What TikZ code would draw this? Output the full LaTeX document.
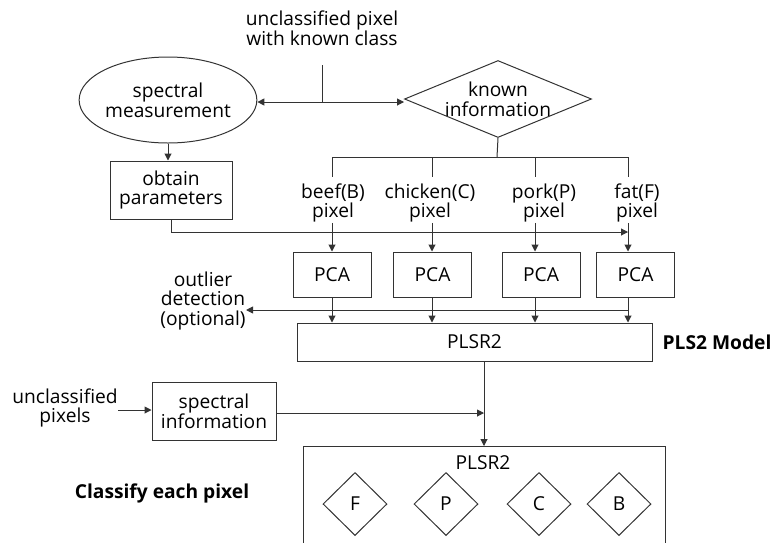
\documentclass[tikz,border=0pt]{standalone}
\usepackage{fontspec}
\setmainfont{Open Sans}
\usetikzlibrary{shapes.geometric,arrows.meta}

\begin{document}
\begin{tikzpicture}[
    x=0.5pt, y=-0.5pt,
    font=\fontsize{9.6}{9.8}\selectfont,
    every node/.style={align=center, inner sep=0pt},
    line/.style={draw=black!80, line width=0.5pt},
    arr/.style={line, -{Triangle[length=3.5pt,width=3.5pt]}},
    dblarr/.style={line, {Triangle[length=3.5pt,width=3.5pt]}-{Triangle[length=3.5pt,width=3.5pt]}},
    box/.style={line, rectangle},
    pcabox/.style={box, minimum width=39pt, minimum height=22.5pt},
    classdia/.style={line, diamond, minimum width=32pt, minimum height=31.5pt},
    boldtext/.style={font=\fontsize{9.6}{9.8}\selectfont\bfseries}
    ]
    \useasboundingbox (0,0) rectangle (770,542);

    % input and first split
    \node (known-class) at (322,28) {unclassified pixel\\with known class};
    \coordinate (jtop) at (322,65);
    \coordinate (jbot) at (322,102);
    \node [line, ellipse, minimum width=77.5pt, minimum height=43pt] (meas) at (168,100) {spectral\\measurement};
    \node [line, diamond, minimum width=93.5pt, minimum height=38.5pt] (known) at (498,99) {};
    \node (known-text) at (known.center) {known\\information};
    \draw [line] (jtop) -- (jbot);
    \draw [dblarr] (meas.east |- jbot) -- (known.west |- jbot);

    \node [box, minimum width=61pt, minimum height=29pt] (obtain) at (171,190) {obtain\\parameters};
    \draw [arr] (meas.south) -- (obtain.north -| meas.south);

    % branches to the classes
    \coordinate (split) at (497,157);
    \coordinate (bB) at (332,157);
    \coordinate (bC) at (432,157);
    \coordinate (bP) at (535,157);
    \coordinate (bF) at (628,157);
    \draw [line] (known.south) -- (split);
    \draw [line] (bB) -- (bF);
    \foreach \c in {bB,bC,bP,bF}
        \draw [line] (\c) -- ++(0,20);

    \node (lbeef) at (333,203) {beef(B)\\pixel};
    \node (lchick) at (430,203) {chicken(C)\\pixel};
    \node (lpork) at (544,203) {pork(P)\\pixel};
    \node (lfat) at (637,203) {fat(F)\\pixel};

    \node [pcabox] (pbeef) at (332,274.5) {PCA};
    \node [pcabox] (pchick) at (432.5,274.5) {PCA};
    \node [pcabox] (ppork) at (541,274.5) {PCA};
    \node [pcabox] (pfat) at (635.5,274.5) {PCA};

    \draw [arr] (lbeef.south -| bB) -- (pbeef.north -| bB);
    \draw [arr] (lchick.south -| bC) -- (pchick.north -| bC);
    \draw [arr] (lpork.south -| bP) -- (ppork.north -| bP);
    \draw [arr] (lfat.south -| bF) -- (pfat.north -| bF);

    % parameters to all classes
    \coordinate (parend) at (628,232);
    \draw [arr] (obtain.south) |- (parend);

    % PLS2 model
    \node [box, minimum width=177.5pt, minimum height=19pt] (plsr) at (474.5,342) {PLSR2};
    \node [boldtext] (model) at (717,342) {PLS2 Model};
    \draw [arr] (pbeef.south -| bB) -- (plsr.north -| bB);
    \draw [arr] (pchick.south -| bC) -- (plsr.north -| bC);
    \draw [arr] (ppork.south -| bP) -- (plsr.north -| bP);
    \draw [arr] (pfat.south -| bF) -- (plsr.north -| bF);

    \node (outlier) at (203,301) {outlier\\detection\\(optional)};
    \coordinate (oend) at (628,310);
    \draw [arr] (oend) -- (outlier.east |- oend);

    % classification
    \node (uncl) at (65,408) {unclassified\\pixels};
    \node [box, minimum width=62pt, minimum height=29pt] (specinfo) at (214,411) {spectral\\information};
    \draw [arr] (uncl.east) ++(0,2) -- (specinfo.west |- 0,410);
    \coordinate (merge) at (484,413);
    \coordinate (clstop) at (484,446);
    \draw [arr] (specinfo.east |- merge) -- (merge);
    \draw [arr] (plsr.south -| merge) -- (clstop);

    \draw [line] (303,545) -- (303,446) -- (665,446) -- (665,545);
    \node (clsname) at (483,463) {PLSR2};
    \node [classdia] (dF) at (355,504) {F};
    \node [classdia] (dP) at (446,504) {P};
    \node [classdia] (dC) at (539,504) {C};
    \node [classdia] (dB) at (619,504) {B};
    \node [boldtext] (classify) at (162,493) {Classify each pixel};
\end{tikzpicture}
\end{document}
